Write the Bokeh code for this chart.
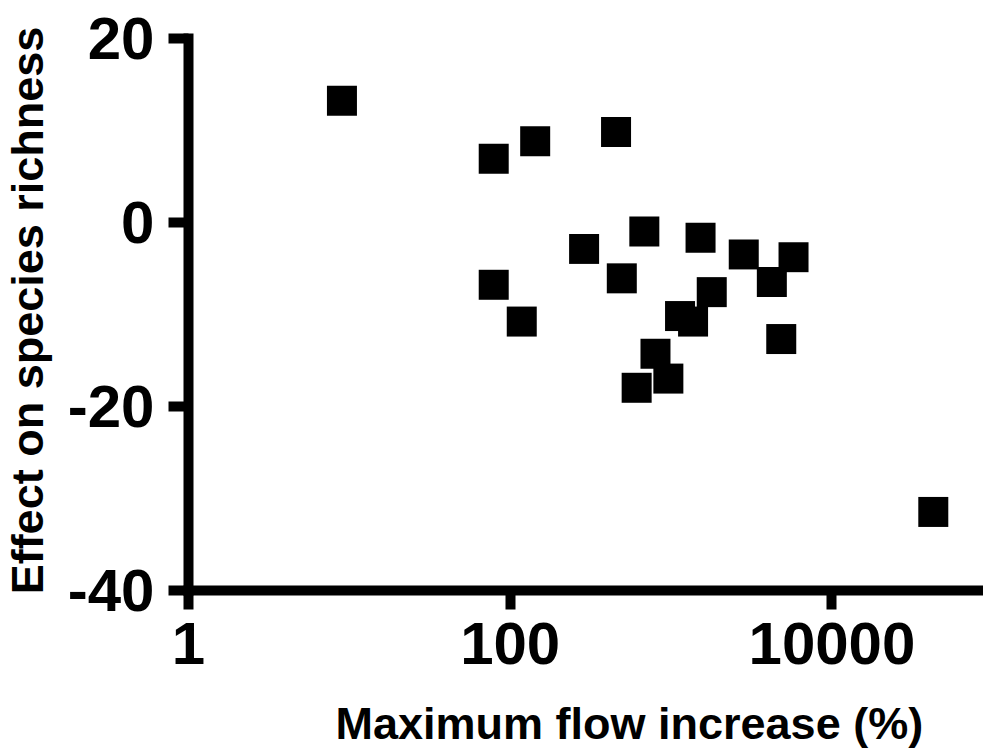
import math
from bokeh.plotting import figure
from bokeh.models import Range1d, FixedTicker, Label
from bokeh.embed import file_html
from bokeh.resources import INLINE

# ---- data ----
flow_increase = [9.0, 79, 143, 455, 682, 288, 494, 79, 118, 1525, 2830,
                 5770, 4230, 1790, 1137, 1370, 4840, 800, 962, 611, 42650]
richness_effect = [13.2, 6.9, 8.8, 9.8, -1.0, -2.9, -6.1, -6.8, -10.8, -1.7, -3.5,
                   -3.8, -6.5, -7.6, -10.2, -10.8, -12.7, -14.3, -17.0, -18.0, -31.5]

x_ticks = [1, 100, 10000]
x_tick_labels = ["1", "100", "10000"]
y_ticks = [-40, -20, 0, 20]
y_tick_labels = ["-40", "-20", "0", "20"]
x_title = "Maximum flow increase (%)"
y_title = "Effect on species richness"

FONT = "Liberation Sans"

# axis extents (where the drawn axis lines run)
Y_MIN, Y_MAX = -40, 20
X_MIN, X_MAX = 1, 87500
# visible ranges include the margin area so that labels are not clipped
p = figure(width=983, height=749, x_axis_type="log",
           x_range=Range1d(0.0679, X_MAX), y_range=Range1d(-57.33, 24.11),
           output_backend="svg", toolbar_location=None,
           min_border_left=0, min_border_right=0,
           min_border_top=0, min_border_bottom=0)

p.outline_line_color = None
p.xgrid.visible = False
p.ygrid.visible = False
p.background_fill_color = "white"
p.border_fill_color = "white"

p.scatter(flow_increase, richness_effect, marker="square", size=30,
          fill_color="black", line_color="black", line_width=0)

for ax in (p.xaxis[0], p.yaxis[0]):
    ax.axis_line_width = 10
    ax.axis_line_color = "black"
    ax.axis_line_cap = "square"
    ax.major_tick_line_width = 10
    ax.major_tick_line_color = "black"
    ax.major_tick_in = 0
    ax.minor_tick_line_color = None
    ax.major_label_text_font = FONT
    ax.major_label_text_font_style = "bold"
    ax.major_label_text_font_size = "60px"
    ax.major_label_text_color = "black"

xa = p.xaxis[0]
xa.ticker = FixedTicker(ticks=x_ticks, minor_ticks=[])
xa.major_label_overrides = {t: s for t, s in zip(x_ticks, x_tick_labels)}
xa.major_tick_out = 19
xa.major_label_standoff = 14
xa.fixed_location = Y_MIN
xa.bounds = (X_MIN, X_MAX)

ya = p.yaxis[0]
ya.ticker = FixedTicker(ticks=y_ticks, minor_ticks=[])
ya.major_label_overrides = {t: s for t, s in zip(y_ticks, y_tick_labels)}
ya.major_tick_out = 20
ya.major_label_standoff = 14
ya.fixed_location = X_MIN
ya.bounds = (Y_MIN, Y_MAX)

p.add_layout(Label(x=147 + 188, y=26, x_units="screen", y_units="screen",
                   text=x_title, text_font=FONT, text_font_style="bold",
                   text_font_size="45px", text_color="black",
                   text_align="left", text_baseline="middle"))

p.add_layout(Label(x=27.4, y=439, x_units="screen", y_units="screen",
                   angle=math.pi / 2,
                   text=y_title, text_font=FONT, text_font_style="bold",
                   text_font_size="45px", text_color="black",
                   text_align="center", text_baseline="middle"))

open("out.html", "w").write(file_html(p, INLINE))
